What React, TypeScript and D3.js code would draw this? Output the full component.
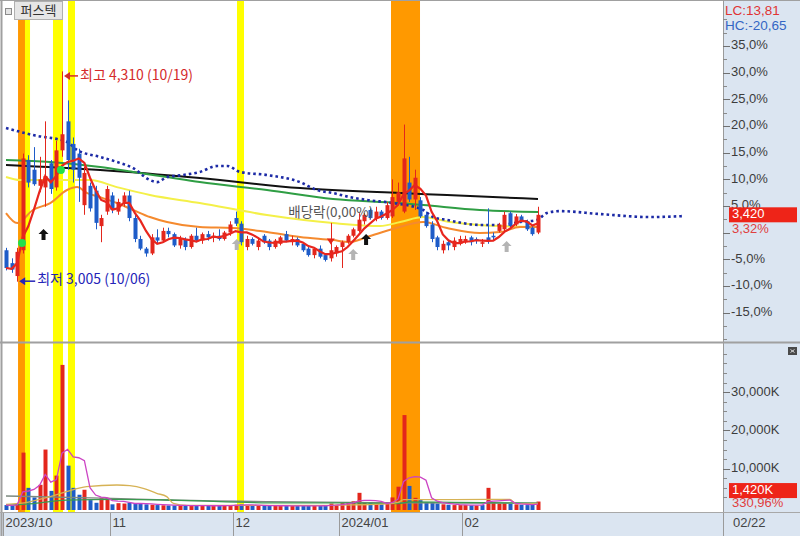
import React from "react";
import * as d3 from "d3";

const stockName = "퍼스텍";
const basePrice = 3310;

const opens = [
  3200, 3120, 3040, 3200, 3760, 3700, 3600, 3590, 3740, 3590, 3820, 4000, 3860, 3800, 3480, 3600, 3570, 3350, 3440,
  3540, 3440, 3500, 3540, 3400, 3270, 3210, 3180, 3280, 3260, 3320, 3300, 3230, 3270, 3220, 3290, 3260, 3300, 3280, 3290, 3270, 3310,
  3400, 3365, 3220, 3270, 3220, 3290, 3260, 3220, 3240, 3300, 3250, 3270, 3240, 3210, 3170, 3210, 3170, 3150, 3180,
  3220, 3250, 3290, 3320, 3380, 3450, 3400, 3440, 3400, 3410, 3500, 3440, 3620, 3515, 3510, 3420, 3360, 3280, 3200, 3250, 3220, 3240,
  3250, 3280, 3270, 3240, 3280, 3290, 3320, 3330, 3430, 3360, 3410, 3380, 3340, 3310,
];
const highs = [
  3215, 3150, 3215, 3800, 3790, 3840, 3780, 4000, 3760, 3880, 4310, 4130, 3900, 3830, 3720, 3620, 3600, 3420, 3600,
  3560, 3520, 3560, 3570, 3420, 3290, 3220, 3300, 3330, 3340, 3340, 3310, 3290, 3280, 3300, 3340, 3310, 3320, 3310, 3330, 3320, 3380,
  3440, 3380, 3290, 3280, 3280, 3300, 3270, 3270, 3290, 3320, 3290, 3280, 3250, 3220, 3220, 3230, 3180, 3370, 3230,
  3260, 3300, 3340, 3430, 3430, 3460, 3470, 3450, 3500, 3640, 3620, 3980, 3780, 3700, 3530, 3440, 3380, 3290, 3260, 3260, 3280, 3290,
  3290, 3290, 3280, 3270, 3460, 3310, 3370, 3440, 3440, 3425, 3420, 3390, 3350, 3470,
];
const lows = [
  3075, 3060, 3005, 3180, 3590, 3600, 3560, 3470, 3550, 3570, 3780, 3700, 3620, 3500, 3420, 3440, 3330, 3250, 3420,
  3430, 3420, 3470, 3380, 3250, 3200, 3160, 3170, 3240, 3250, 3280, 3220, 3210, 3200, 3210, 3250, 3240, 3260, 3250, 3260, 3260, 3290,
  3350, 3230, 3200, 3230, 3200, 3240, 3200, 3210, 3230, 3250, 3230, 3220, 3190, 3160, 3150, 3150, 3130, 3130, 3160,
  3090, 3240, 3280, 3310, 3360, 3390, 3380, 3390, 3390, 3400, 3480, 3430, 3500, 3450, 3400, 3340, 3250, 3200, 3180, 3200, 3200, 3230,
  3240, 3230, 3240, 3220, 3240, 3260, 3310, 3310, 3340, 3350, 3370, 3320, 3290, 3300,
];
const closes = [
  3090, 3080, 3190, 3770, 3620, 3610, 3640, 3660, 3580, 3820, 3920, 3760, 3700, 3650, 3680, 3460, 3370, 3400, 3580,
  3450, 3500, 3540, 3400, 3270, 3210, 3180, 3280, 3260, 3320, 3300, 3230, 3270, 3220, 3290, 3260, 3300, 3280, 3290, 3270, 3310, 3360,
  3365, 3250, 3270, 3240, 3260, 3250, 3220, 3260, 3280, 3260, 3270, 3230, 3200, 3170, 3210, 3160, 3140, 3200, 3220,
  3250, 3290, 3330, 3390, 3420, 3400, 3440, 3400, 3480, 3530, 3560, 3770, 3515, 3650, 3410, 3350, 3270, 3220, 3240, 3230, 3260, 3270,
  3270, 3250, 3260, 3250, 3260, 3280, 3360, 3420, 3350, 3410, 3380, 3330, 3300, 3420,
];
// volume in thousands of shares
const volumes = [
  500, 400, 800, 14200, 5000, 2500, 5800, 15000, 4200, 8200, 37100, 10800, 5000, 3200, 4500, 1800, 1100, 2400, 2400,
  700, 1000, 900, 1100, 900, 800, 700, 600, 500, 450, 400, 400, 350, 400, 350, 300, 350, 300, 300, 350, 400, 500,
  600, 700, 450, 400, 350, 350, 300, 300, 350, 300, 300, 250, 300, 350, 300, 300, 350, 900, 600,
  1000, 1300, 1500, 3700, 1200, 1000, 800, 700, 900, 2500, 5300, 24000, 5500, 2400, 1800, 1300, 1100, 900, 700, 600, 500, 500,
  500, 450, 400, 500, 5000, 1300, 900, 1000, 800, 700, 600, 500, 600, 1420,
];

const monthLabels = ["2023/10", "11", "12", "2024/01", "02"];
const monthStarts = [0, 19, 41, 60, 82];
const lastDateLabel = "02/22";
const highDateLabel = "10/19";
const lowDateLabel = "10/06";
const exDivIndex = 58;
const exDivLabel = "배당락(0,00%)";
const volRatioLabel = "330,96%";

const pctTicks = [-15, -10, -5, 0, 5, 10, 15, 20, 25, 30, 35];
const volTicks = [10000, 20000, 30000];

// moving average lines: [day index, price]
const ma20 = [[0, 3431], [2, 3369], [4.8, 3450], [7.9, 3493], [10.9, 3574], [12.7, 3592], [14.5, 3555], [16.8, 3530], [19.8, 3493], [22.7, 3450], [25.7, 3406], [28.75, 3375], [34.6, 3344], [40.5, 3338], [46.6, 3313], [52.5, 3282], [58.4, 3263], [61.4, 3251], [64.5, 3282], [69.1, 3332], [74.5, 3375], [78.75, 3338], [84.6, 3307], [88.2, 3313], [91.8, 3344], [95, 3344]];
const ma60 = [[0, 3655], [2.5, 3636], [15, 3636], [19.8, 3592], [25.7, 3543], [34.6, 3493], [46.6, 3419], [58.4, 3369], [66.8, 3350], [70.4, 3375], [74.5, 3406], [79.3, 3375], [84.6, 3357], [95, 3344]];
const ma120 = [[0, 3760], [7.9, 3748], [16.8, 3717], [22.7, 3686], [28.75, 3654], [34.6, 3623], [46.6, 3574], [58.4, 3518], [70.4, 3493], [74.5, 3481], [84.6, 3450], [95, 3437]];
const ma240 = [[0, 3729], [16.8, 3698], [34.6, 3648], [52.5, 3586], [70.4, 3555], [78.75, 3543], [95, 3518]];
const leadSpan = [[0, 3959], [4.8, 3915], [10.9, 3872], [12.7, 3822], [16.8, 3779], [19.8, 3748], [22.7, 3710], [25.7, 3636], [27, 3623], [28.75, 3654], [31.6, 3667], [34.6, 3686], [37.7, 3723], [39.5, 3723], [41.8, 3686], [46.6, 3667], [52.5, 3623], [55.5, 3574], [58.4, 3555], [61.4, 3530], [64.5, 3512], [69.1, 3493], [74.5, 3450], [76.25, 3406], [78.75, 3388], [84.6, 3357], [88.2, 3357], [91.8, 3375], [94.8, 3388], [96.6, 3431], [98.9, 3443], [106, 3425], [115, 3406], [121, 3412]];
// volume average lines: [day index, volume K]
const vma20 = [[0, 700], [4, 1300], [7.9, 2700], [10.8, 4000], [14.4, 5300], [19.8, 5750], [22.1, 5560], [24.5, 4880], [26.9, 3570], [28.7, 2700], [29.9, 960], [32.3, 450], [40, 400], [55, 400], [62, 550], [68, 800], [70, 1200], [71, 1900], [80, 1950], [90, 2000], [91, 900], [95, 950]];
const vma60 = [[0, 500], [5, 900], [10.8, 1800], [19.8, 2000], [30, 1800], [47, 1100], [60, 1100], [70, 900], [72, 1300], [80, 1200], [95, 1000]];
const vma120 = [[0, 2870], [19, 2270], [28.7, 1830], [47, 1400], [66, 1150], [80, 1050], [95, 1000]];

// signal bands: [start index, end index]
const orangeBands = [[2.15, 3.39], [68.75, 73.93]];
const yellowBands = [[3.39, 4.29], [8.39, 10.18], [11.07, 12.32], [41.25, 42.5]];
const greenDots = [[2.86, 3245], [9.8, 3698]];
const blackArrows = [[6.7, 3294], [64.3, 3263]];
const grayArrows = [[41.2, 3232], [62, 3170], [89.4, 3220]];

const RED = "#e3261c";
const BLUE = "#1e5cc8";
const PANEL = "#dbe5f1";
const AX = "Liberation Sans, Arial, sans-serif";
const KR = "'Noto Sans CJK KR', sans-serif";

export default function App() {
  const n = closes.length;
  const xS = d3.scaleLinear().domain([0, 121]).range([6, 6 + 121 * 5.6]);
  const yPct = d3.scaleLinear().domain([-20, 40]).range([339.2, 19.2]);
  const toPct = (p: number) => (p / basePrice - 1) * 100;
  const yP = (p: number) => yPct(toPct(p));
  const yV = d3.scaleLinear().domain([0, 40000]).range([507, 353.8]);

  const ma5 = closes.map((_, i) => d3.mean(closes.slice(Math.max(0, i - 4), i + 1)) as number);
  const vma5 = volumes.map((_, i) => d3.mean(volumes.slice(Math.max(0, i - 4), i + 1)) as number);

  const lineP = d3.line<number[]>().x((d) => xS(d[0])).y((d) => yP(d[1])).curve(d3.curveMonotoneX);
  const lineV = d3.line<number[]>().x((d) => xS(d[0])).y((d) => yV(d[1])).curve(d3.curveMonotoneX);
  const ma5Path = d3.line<number>().x((_, i) => xS(i)).y((d) => yP(d))(ma5) || "";
  const vma5Path = d3.line<number>().x((_, i) => xS(i)).y((d) => yV(d))(vma5) || "";

  const hiIdx = d3.maxIndex(highs);
  const loIdx = d3.minIndex(lows);
  const last = closes[n - 1];
  const lc = ((last - lows[loIdx]) / lows[loIdx]) * 100;
  const hc = ((last - highs[hiIdx]) / highs[hiIdx]) * 100;
  const dec = (v: number, k: number) => v.toFixed(k).replace(".", ",");
  const fmt = d3.format(",");

  const minorPct = d3.range(-20, 40.01, 2.5);
  const minorVol = d3.range(2500, 40001, 2500);

  const arrowPath = "M0,-6 L5,-1 L2,-1 L2,5 L-2,5 L-2,-1 L-5,-1 Z";

  const bandRect = (b: number[], col: string, k: string) => (
    <rect key={k} x={xS(b[0])} y={1} width={xS(b[1]) - xS(b[0])} height={511} fill={col} />
  );

  return (
    <svg width={800} height={536} style={{ position: "absolute", left: 0, top: 0 }} fontFamily={AX}>
      <defs>
        <clipPath id="cp"><rect x={3} y={1} width={720} height={341} /></clipPath>
        <clipPath id="cv"><rect x={3} y={344} width={720} height={168} /></clipPath>
      </defs>
      <rect x={0} y={0} width={800} height={536} fill="#ffffff" />
      <rect x={723} y={0} width={77} height={536} fill={PANEL} />
      <rect x={0} y={513} width={800} height={23} fill={PANEL} />

      {orangeBands.map((b, i) => bandRect(b, "#ff9900", "o" + i))}
      {yellowBands.map((b, i) => bandRect(b, "#ffff00", "y" + i))}

      {/* price panel */}
      <g clipPath="url(#cp)">
        <path d={lineP(ma240) || ""} fill="none" stroke="#111" strokeWidth={2} />
        <path d={lineP(ma120) || ""} fill="none" stroke="#2f9e44" strokeWidth={2} />
        <path d={lineP(ma60) || ""} fill="none" stroke="#f4f048" strokeWidth={2} />
        <path d={lineP(ma20) || ""} fill="none" stroke="#f58a2e" strokeWidth={2} />
        <path d={lineP(leadSpan) || ""} fill="none" stroke="#1c2aa6" strokeWidth={2.6} strokeDasharray="2.6 3" />
        {closes.map((c, i) => {
          const o = opens[i];
          const up = c >= o;
          const col = up ? RED : BLUE;
          const cx = Math.round(xS(i)) + 0.5;
          const yt = yP(Math.max(o, c));
          const yb = yP(Math.min(o, c));
          return (
            <g key={i}>
              <line x1={cx} x2={cx} y1={yP(highs[i])} y2={yP(lows[i])} stroke={col} strokeWidth={1} />
              <rect x={cx - 2} y={yt} width={4} height={Math.max(1, yb - yt)} fill={col} />
            </g>
          );
        })}
        <path d={ma5Path} fill="none" stroke="#e8261e" strokeWidth={2.2} />
        {greenDots.map((d, i) => (
          <circle key={i} cx={xS(d[0])} cy={yP(d[1])} r={4} fill="#22e04a" />
        ))}
        {blackArrows.map((d, i) => (
          <path key={i} d={arrowPath} transform={`translate(${xS(d[0])},${yP(d[1])})`} fill="#111" />
        ))}
        {grayArrows.map((d, i) => (
          <path key={i} d={arrowPath} transform={`translate(${xS(d[0])},${yP(d[1])})`} fill="#b4b4b4" />
        ))}
        <path d="M-4,-3 L4,-3 L0,3 Z" transform={`translate(${xS(exDivIndex)},${yP(lows[exDivIndex]) - 20})`} fill={RED} />
        <text x={xS(exDivIndex)} y={yP(highs[exDivIndex]) - 10} textAnchor="middle" dominantBaseline="middle" fontFamily={KR} fontSize={13.5} fill="#555">
          {exDivLabel}
        </text>
        {/* high annotation */}
        <g transform={`translate(${xS(hiIdx) + 2},${yP(highs[hiIdx]) + 4.5})`}>
          <line x1={4} x2={14} y1={0} y2={0} stroke="#d42a2a" strokeWidth={1.5} />
          <path d="M0,0 L6,-4 L6,4 Z" fill="#d42a2a" />
          <text x={16} y={0} dominantBaseline="middle" fontFamily={KR} fontSize={14} fill="#d42a2a">
            {`최고 ${fmt(highs[hiIdx])} (${highDateLabel})`}
          </text>
        </g>
        <g transform={`translate(${xS(loIdx) + 2},${yP(lows[loIdx]) - 0.5})`}>
          <line x1={4} x2={16} y1={0} y2={0} stroke="#2424b8" strokeWidth={1.5} />
          <path d="M0,0 L6,-4 L6,4 Z" fill="#2424b8" />
          <text x={18} y={-1} dominantBaseline="middle" fontFamily={KR} fontSize={14} fill="#2424b8">
            {`최저 ${fmt(lows[loIdx])} (${lowDateLabel})`}
          </text>
        </g>
      </g>

      {/* volume panel */}
      <g clipPath="url(#cv)">
        {volumes.map((v, i) => {
          const up = i === 0 ? closes[i] >= opens[i] : closes[i] >= closes[i - 1];
          const cx = Math.round(xS(i)) + 0.5;
          const yt = yV(v);
          return <rect key={i} x={cx - 2} y={yt} width={4} height={510 - yt} fill={up ? RED : BLUE} />;
        })}
        <path d={lineV(vma120) || ""} fill="none" stroke="#7d8a80" strokeWidth={1.3} />
        <path d={lineV(vma60) || ""} fill="none" stroke="#3a9a50" strokeWidth={1.3} />
        <path d={lineV(vma20) || ""} fill="none" stroke="#d6b255" strokeWidth={1.3} />
        <path d={vma5Path} fill="none" stroke="#cc44c4" strokeWidth={1.3} />
      </g>

      {/* frame lines */}
      <line x1={0} x2={800} y1={0.5} y2={0.5} stroke="#a0a0a0" />
      <line x1={1.5} x2={1.5} y1={0} y2={536} stroke="#a0a0a0" strokeWidth={2} />
      <line x1={723.5} x2={723.5} y1={0} y2={536} stroke="#9a9a9a" />
      <line x1={0} x2={800} y1={342.5} y2={342.5} stroke="#a0a0a0" strokeWidth={2} />
      <line x1={0} x2={800} y1={512.5} y2={512.5} stroke="#a8a8a8" />

      {/* price axis */}
      {minorPct.map((v) => (
        <line key={"mp" + v} x1={723} x2={727} y1={Math.round(yPct(v)) + 0.5} y2={Math.round(yPct(v)) + 0.5} stroke="#8a8a8a" />
      ))}
      {pctTicks.map((v) => (
        <g key={"tp" + v}>
          <line x1={723} x2={730} y1={Math.round(yPct(v)) + 0.5} y2={Math.round(yPct(v)) + 0.5} stroke="#707070" />
          {v !== 0 && (
            <text x={731} y={yPct(v)} dominantBaseline="middle" fontSize={13} fill="#3c3c3c">
              {`${dec(v, 1)}%`}
            </text>
          )}
        </g>
      ))}
      <text x={725} y={11} dominantBaseline="middle" fontSize={13.5} fill="#e03434">{`LC:${dec(lc, 2)}`}</text>
      <text x={725} y={26} dominantBaseline="middle" fontSize={13.5} fill="#3466c4">{`HC:${dec(hc, 2)}`}</text>
      <rect x={729} y={yP(last) - 7.5} width={68} height={15} fill="#ee2418" />
      <text x={732} y={yP(last)} dominantBaseline="middle" fontSize={13} fill="#ffffff">{fmt(last)}</text>
      <text x={732} y={yP(last) + 15} dominantBaseline="middle" fontSize={13} fill="#e04040">{`${dec(toPct(last), 2)}%`}</text>

      {/* volume axis */}
      {minorVol.map((v) => (
        <line key={"mv" + v} x1={723} x2={727} y1={Math.round(yV(v)) + 0.5} y2={Math.round(yV(v)) + 0.5} stroke="#8a8a8a" />
      ))}
      {volTicks.map((v) => (
        <g key={"tv" + v}>
          <line x1={723} x2={730} y1={Math.round(yV(v)) + 0.5} y2={Math.round(yV(v)) + 0.5} stroke="#707070" />
          <text x={731} y={yV(v)} dominantBaseline="middle" fontSize={13} fill="#3c3c3c">{`${fmt(v)}K`}</text>
        </g>
      ))}
      <rect x={729} y={yV(volumes[n - 1]) - 18.5} width={68} height={15} fill="#ee2418" />
      <text x={732} y={yV(volumes[n - 1]) - 11} dominantBaseline="middle" fontSize={13} fill="#ffffff">{`${fmt(volumes[n - 1])}K`}</text>
      <text x={732} y={yV(volumes[n - 1]) + 2.5} dominantBaseline="middle" fontSize={13} fill="#e04040">{volRatioLabel}</text>
      <rect x={788} y={347} width={9} height={8} fill="#4a4a4a" />
      <path d="M790.5,349.5 L794.5,352.5 M794.5,349.5 L790.5,352.5" stroke="#ddd" strokeWidth={1} />

      {/* date axis */}
      {monthStarts.map((s, i) => {
        const xb = Math.round(xS(s - 0.5)) + 0.5;
        return (
          <g key={"m" + i}>
            <line x1={xb} x2={xb} y1={513} y2={536} stroke="#9a9a9a" />
            <text x={xb + 2} y={524} dominantBaseline="middle" fontSize={13} fill="#444">{monthLabels[i]}</text>
          </g>
        );
      })}
      <text x={733} y={524} dominantBaseline="middle" fontSize={13} fill="#444">{lastDateLabel}</text>

      {/* title tag */}
      <rect x={5.5} y={8.5} width={6} height={6} fill="#e4e4e4" stroke="#8a8a8a" />
      <rect x={14.5} y={1.5} width={48} height={18} fill="#e6e6e6" stroke="#b0b0b0" />
      <text x={38.5} y={15} textAnchor="middle" fontFamily={KR} fontSize={13} fill="#333">
        {stockName}
      </text>
    </svg>
  );
}
